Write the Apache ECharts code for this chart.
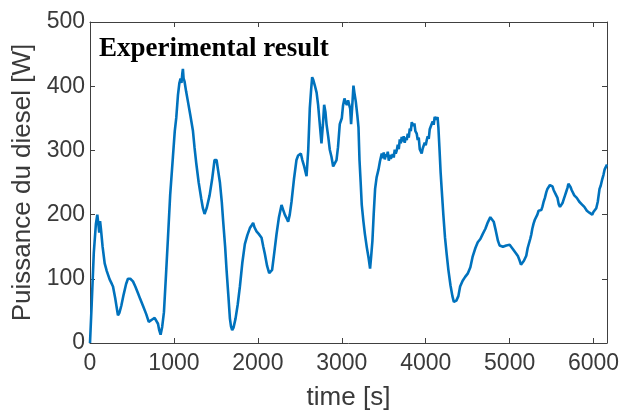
<!DOCTYPE html>
<html>
<head>
<meta charset="utf-8">
<script src="https://cdn.jsdelivr.net/npm/echarts@6/dist/echarts.min.js"></script>
<style>html,body{margin:0;padding:0;background:#fff;}#c{width:634px;height:416px;}</style>
</head>
<body>
<div id="c"></div>
<script>
var time = [0,20,45,70,87,100,110,120,130,150,175,200,234,260,274,300,333,350,373,400,430,452,480,512,540,571,600,631,670,700,720,745,770,790,810,825,841,860,881,905,929,955,988,1010,1028,1048,1065,1079,1090,1100,1107,1115,1127,1145,1167,1195,1226,1245,1266,1295,1325,1345,1365,1390,1425,1455,1484,1500,1508,1525,1548,1570,1587,1610,1627,1648,1667,1680,1694,1710,1734,1760,1786,1815,1845,1875,1905,1925,1944,1960,1984,2010,2044,2065,2083,2110,2135,2150,2170,2195,2222,2250,2282,2300,2321,2340,2361,2380,2401,2430,2460,2480,2512,2530,2552,2580,2600,2619,2635,2647,2660,2679,2700,2718,2735,2758,2775,2790,2805,2818,2840,2857,2877,2897,2915,2937,2955,2976,3000,3015,3032,3045,3060,3075,3087,3100,3111,3125,3139,3150,3167,3185,3199,3211,3225,3238,3258,3275,3298,3320,3337,3350,3365,3380,3397,3415,3437,3455,3476,3490,3500,3512,3525,3536,3548,3560,3572,3584,3595,3607,3619,3631,3643,3655,3667,3679,3691,3703,3714,3726,3738,3750,3762,3774,3786,3798,3810,3822,3834,3841,3853,3865,3877,3893,3905,3917,3929,3941,3952,3964,3976,3988,4000,4012,4024,4036,4048,4060,4071,4083,4095,4107,4119,4130,4141,4151,4165,4178,4190,4210,4230,4250,4270,4295,4318,4335,4349,4365,4389,4410,4440,4470,4500,4532,4560,4592,4620,4651,4680,4711,4740,4770,4790,4810,4835,4861,4880,4901,4920,4940,4960,4980,5000,5020,5040,5060,5079,5100,5120,5135,5151,5170,5185,5198,5215,5230,5245,5258,5270,5285,5300,5317,5330,5345,5360,5377,5390,5405,5420,5437,5450,5465,5480,5496,5510,5525,5540,5555,5570,5585,5600,5615,5630,5645,5660,5675,5690,5700,5714,5725,5740,5754,5770,5785,5800,5813,5830,5845,5860,5873,5890,5905,5920,5932,5950,5965,5984,5998,6012,6032,6050,6071,6085,6103,6118,6131,6145,6160];
var power = [0,60,140,185,200,185,172,190,178,150,124,112,99,92,88,70,43,47,58,75,92,100,100,96,88,78,68,58,45,33,30,37,39,36,30,20,13,25,48,105,164,230,290,330,351,386,405,412,405,420,427,412,407,392,376,355,331,305,280,250,225,210,201,210,230,255,285,287,285,270,250,220,189,150,114,75,38,26,20,24,38,60,88,125,154,168,179,183,187,180,174,170,164,150,139,120,109,108,114,140,169,195,215,208,200,195,189,200,220,255,285,292,295,285,275,260,300,366,395,414,410,401,390,371,345,311,340,371,360,341,320,301,290,275,278,285,305,341,350,370,381,375,371,378,381,365,341,370,401,390,376,355,336,285,250,215,189,170,149,132,116,135,159,200,240,258,270,283,295,288,297,286,294,290,298,284,293,287,285,294,289,301,295,300,309,302,317,311,321,314,322,312,320,316,326,320,334,330,344,346,338,342,330,326,316,320,302,300,295,303,300,312,308,316,322,318,333,330,341,345,340,352,354,348,352,336,300,265,240,200,164,138,114,90,73,64,61,66,73,88,97,103,108,118,135,148,157,162,170,178,188,196,193,189,175,159,152,149,150,148,152,149,153,151,146,143,139,135,128,122,124,128,131,136,148,155,162,169,178,186,192,194,200,206,203,207,212,220,226,235,240,237,246,248,244,238,240,230,226,216,212,210,218,224,230,236,242,248,250,243,238,235,230,232,226,225,220,223,216,217,212,214,206,205,203,201,200,204,202,210,220,240,245,255,262,270,274,278];
var xTicks = [0,1000,2000,3000,4000,5000,6000];
var yTicks = [0,100,200,300,400,500];
var titleText = 'Experimental result';
var xName = 'time [s]';
var yName = 'Puissance du diesel [W]';

var data = time.map(function(t,i){return [t, power[i]];});
var chart = echarts.init(document.getElementById('c'), null, {renderer:'canvas'});
var axisColor = '#404040';
var labelColor = '#3a3a3a';
var fontF = 'Arial, "Liberation Sans", sans-serif';
function baseX(extra){
  return Object.assign({
    type:'value', min:xTicks[0], max:6160, interval:1000,
    axisLine:{show:true,onZero:false,lineStyle:{color:axisColor,width:1}},
    axisTick:{show:true,inside:true,length:5,lineStyle:{color:axisColor}},
    splitLine:{show:false}
  }, extra);
}
function baseY(extra){
  return Object.assign({
    type:'value', min:yTicks[0], max:yTicks[yTicks.length-1], interval:100,
    axisLine:{show:true,onZero:false,lineStyle:{color:axisColor,width:1}},
    axisTick:{show:true,inside:true,length:5,lineStyle:{color:axisColor}},
    splitLine:{show:false}
  }, extra);
}
chart.setOption({
  animation:false,
  backgroundColor:'#fff',
  title:{text:titleText,left:94,top:31,textStyle:{fontFamily:'"Liberation Serif", "Times New Roman", serif',fontWeight:'bold',fontSize:27,color:'#000'}},
  grid:{left:90,right:27,top:22,bottom:64,containLabel:false},
  xAxis:[
    baseX({position:'bottom',name:xName,nameLocation:'middle',nameGap:42,
      nameTextStyle:{fontFamily:fontF,fontSize:26,color:labelColor},
      axisLabel:{show:true,margin:9,fontFamily:fontF,fontSize:23,color:labelColor,showMaxLabel:false,
        formatter:function(v){return xTicks.indexOf(v)>=0?String(v):'';}}}),
    baseX({position:'top',axisLabel:{show:false}})
  ],
  yAxis:[
    baseY({position:'left',name:yName,nameLocation:'middle',nameGap:49,nameRotate:90,
      nameTextStyle:{fontFamily:fontF,fontSize:26,color:labelColor},
      axisLabel:{show:true,margin:5,fontFamily:fontF,fontSize:23,color:labelColor}}),
    baseY({position:'right',axisLabel:{show:false}})
  ],
  series:[{type:'line',data:data,showSymbol:false,symbol:'none',lineStyle:{color:'#0072BD',width:2.6},xAxisIndex:0,yAxisIndex:0}]
});
</script>
</body>
</html>
